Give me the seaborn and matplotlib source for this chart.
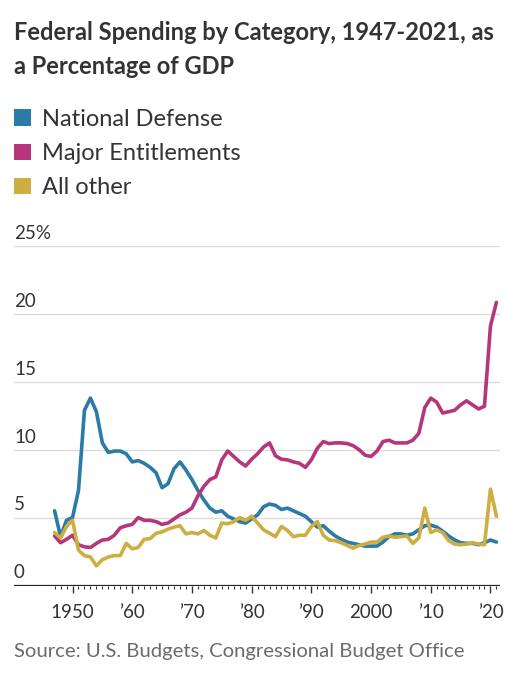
import numpy as np
import pandas as pd
import matplotlib.pyplot as plt
import seaborn as sns
from matplotlib.patches import Patch

# Data (percent of GDP)
years = list(range(1947, 2022))

defense = [5.5, 3.6, 4.8, 5.0, 7.0, 12.9, 13.8, 12.8, 10.5, 9.8,
           9.9, 9.9, 9.7, 9.1, 9.2, 9.0, 8.7, 8.3, 7.2, 7.5,
           8.6, 9.1, 8.5, 7.8, 7.0, 6.3, 5.7, 5.4, 5.5, 5.1,
           4.9, 4.7, 4.6, 4.9, 5.2, 5.8, 6.0, 5.9, 5.6, 5.7,
           5.5, 5.3, 5.1, 4.7, 4.3, 4.4, 4.0, 3.65, 3.4, 3.2,
           3.1, 3.0, 2.9, 2.9, 2.9, 3.2, 3.6, 3.8, 3.8, 3.7,
           3.8, 4.1, 4.4, 4.45, 4.3, 4.0, 3.65, 3.35, 3.15, 3.1,
           3.1, 3.0, 3.15, 3.35, 3.2]

entitlements = [3.65, 3.15, 3.4, 3.7, 3.0, 2.85, 2.8, 3.1, 3.35, 3.4,
                3.7, 4.25, 4.4, 4.5, 5.0, 4.8, 4.8, 4.7, 4.5, 4.6,
                4.9, 5.2, 5.4, 5.7, 6.6, 7.3, 7.8, 8.0, 9.25, 9.9,
                9.5, 9.1, 8.8, 9.3, 9.7, 10.2, 10.5, 9.55, 9.3, 9.25,
                9.1, 9.0, 8.7, 9.25, 10.1, 10.6, 10.45, 10.5, 10.5, 10.45,
                10.3, 10.0, 9.6, 9.5, 9.9, 10.6, 10.7, 10.5, 10.5, 10.5,
                10.7, 11.2, 13.1, 13.8, 13.5, 12.7, 12.8, 12.9, 13.3, 13.6,
                13.3, 13.0, 13.2, 19.1, 20.85]

all_other = [3.9, 3.5, 4.35, 4.8, 2.6, 2.2, 2.1, 1.45, 1.9, 2.1,
             2.2, 2.2, 3.1, 2.7, 2.8, 3.4, 3.45, 3.85, 3.95, 4.15,
             4.3, 4.4, 3.8, 3.9, 3.8, 4.05, 3.7, 3.5, 4.6, 4.55,
             4.7, 5.0, 4.8, 5.1, 4.6, 4.1, 3.85, 3.6, 4.35, 4.05,
             3.6, 3.7, 3.7, 4.35, 4.7, 3.7, 3.35, 3.3, 3.15, 2.95,
             2.75, 2.95, 3.05, 3.2, 3.2, 3.55, 3.65, 3.55, 3.6, 3.65,
             3.1, 3.5, 5.7, 3.9, 4.1, 3.9, 3.3, 3.05, 3.0, 3.05,
             3.15, 3.05, 3.0, 7.1, 5.1]

categories = ['National Defense', 'Major Entitlements', 'All other']
colors = ['#2b7aa8', '#b5367a', '#cdae42']

y_ticks = [0, 5, 10, 15, 20, 25]
y_labels = ['0', '5', '10', '15', '20', '25%']
x_ticks = [1950, 1960, 1970, 1980, 1990, 2000, 2010, 2020]
x_labels = ['1950', '\u201960', '\u201970', '\u201980', '\u201990', '2000', '\u201910', '\u201920']

df = pd.DataFrame({
    'year': years * 3,
    'value': defense + entitlements + all_other,
    'category': sum([[c] * len(years) for c in categories], []),
})

sns.set_style('white')
plt.rcParams['font.family'] = ['Lato', 'DejaVu Sans']

fig = plt.figure(figsize=(5.11, 6.8), dpi=100)
ax = fig.add_axes([14 / 511, 1 - 585.5 / 680, 486 / 511, (585.5 - 246) / 680])

sns.lineplot(data=df, x='year', y='value', hue='category', hue_order=categories,
             palette=colors, linewidth=2.6, ax=ax, legend=False, zorder=3)

ax.set_xlim(1940.2, 2021.6)
ax.set_ylim(0, 25)
ax.set_xlabel('')
ax.set_ylabel('')

# gridlines
for v in y_ticks[1:]:
    ax.axhline(v, color='#dcdcdc', linewidth=1, zorder=1)
ax.axhline(0, color='#222222', linewidth=1.6, zorder=4)

for s in ax.spines.values():
    s.set_visible(False)

# y labels sit above gridlines
ax.set_yticks([])
for v, lab in zip(y_ticks, y_labels):
    ax.annotate(lab, xy=(0, v), xycoords=('axes fraction', 'data'),
                xytext=(0, 3), textcoords='offset points',
                ha='left', va='bottom', fontsize=13.5, color='#333333')

ax.set_xticks(x_ticks)
ax.set_xticklabels(x_labels, fontsize=13.5, color='#333333')
ax.set_xticks(range(1947, 2022), minor=True)
ax.tick_params(axis='x', which='major', length=5, width=1, color='#333333',
               direction='out', pad=8, bottom=True)
ax.tick_params(axis='x', which='minor', length=2.5, width=0.8, color='#333333',
               direction='out', bottom=True)

# title
fig.text(14 / 511, 1 - 21 / 680, 'Federal Spending by Category, 1947-2021, as\na Percentage of GDP',
         ha='left', va='top', fontsize=17, fontweight='bold', color='#333333',
         linespacing=1.6)

# legend
handles = [Patch(facecolor=c, edgecolor='none') for c in colors]
fig.legend(handles, categories, loc='upper left',
           bbox_to_anchor=(14 / 511, 1 - 109 / 680), frameon=False,
           fontsize=17, handlelength=0.7, handleheight=0.7,
           handletextpad=0.5, labelspacing=0.56, borderpad=0,
           borderaxespad=0, labelcolor='#333333')

# source
fig.text(14 / 511, 1 - 652 / 680, 'Source: U.S. Budgets, Congressional Budget Office',
         ha='left', va='center', fontsize=14.6, color='#6b6b6b')

fig.savefig('out.png', dpi=100)
